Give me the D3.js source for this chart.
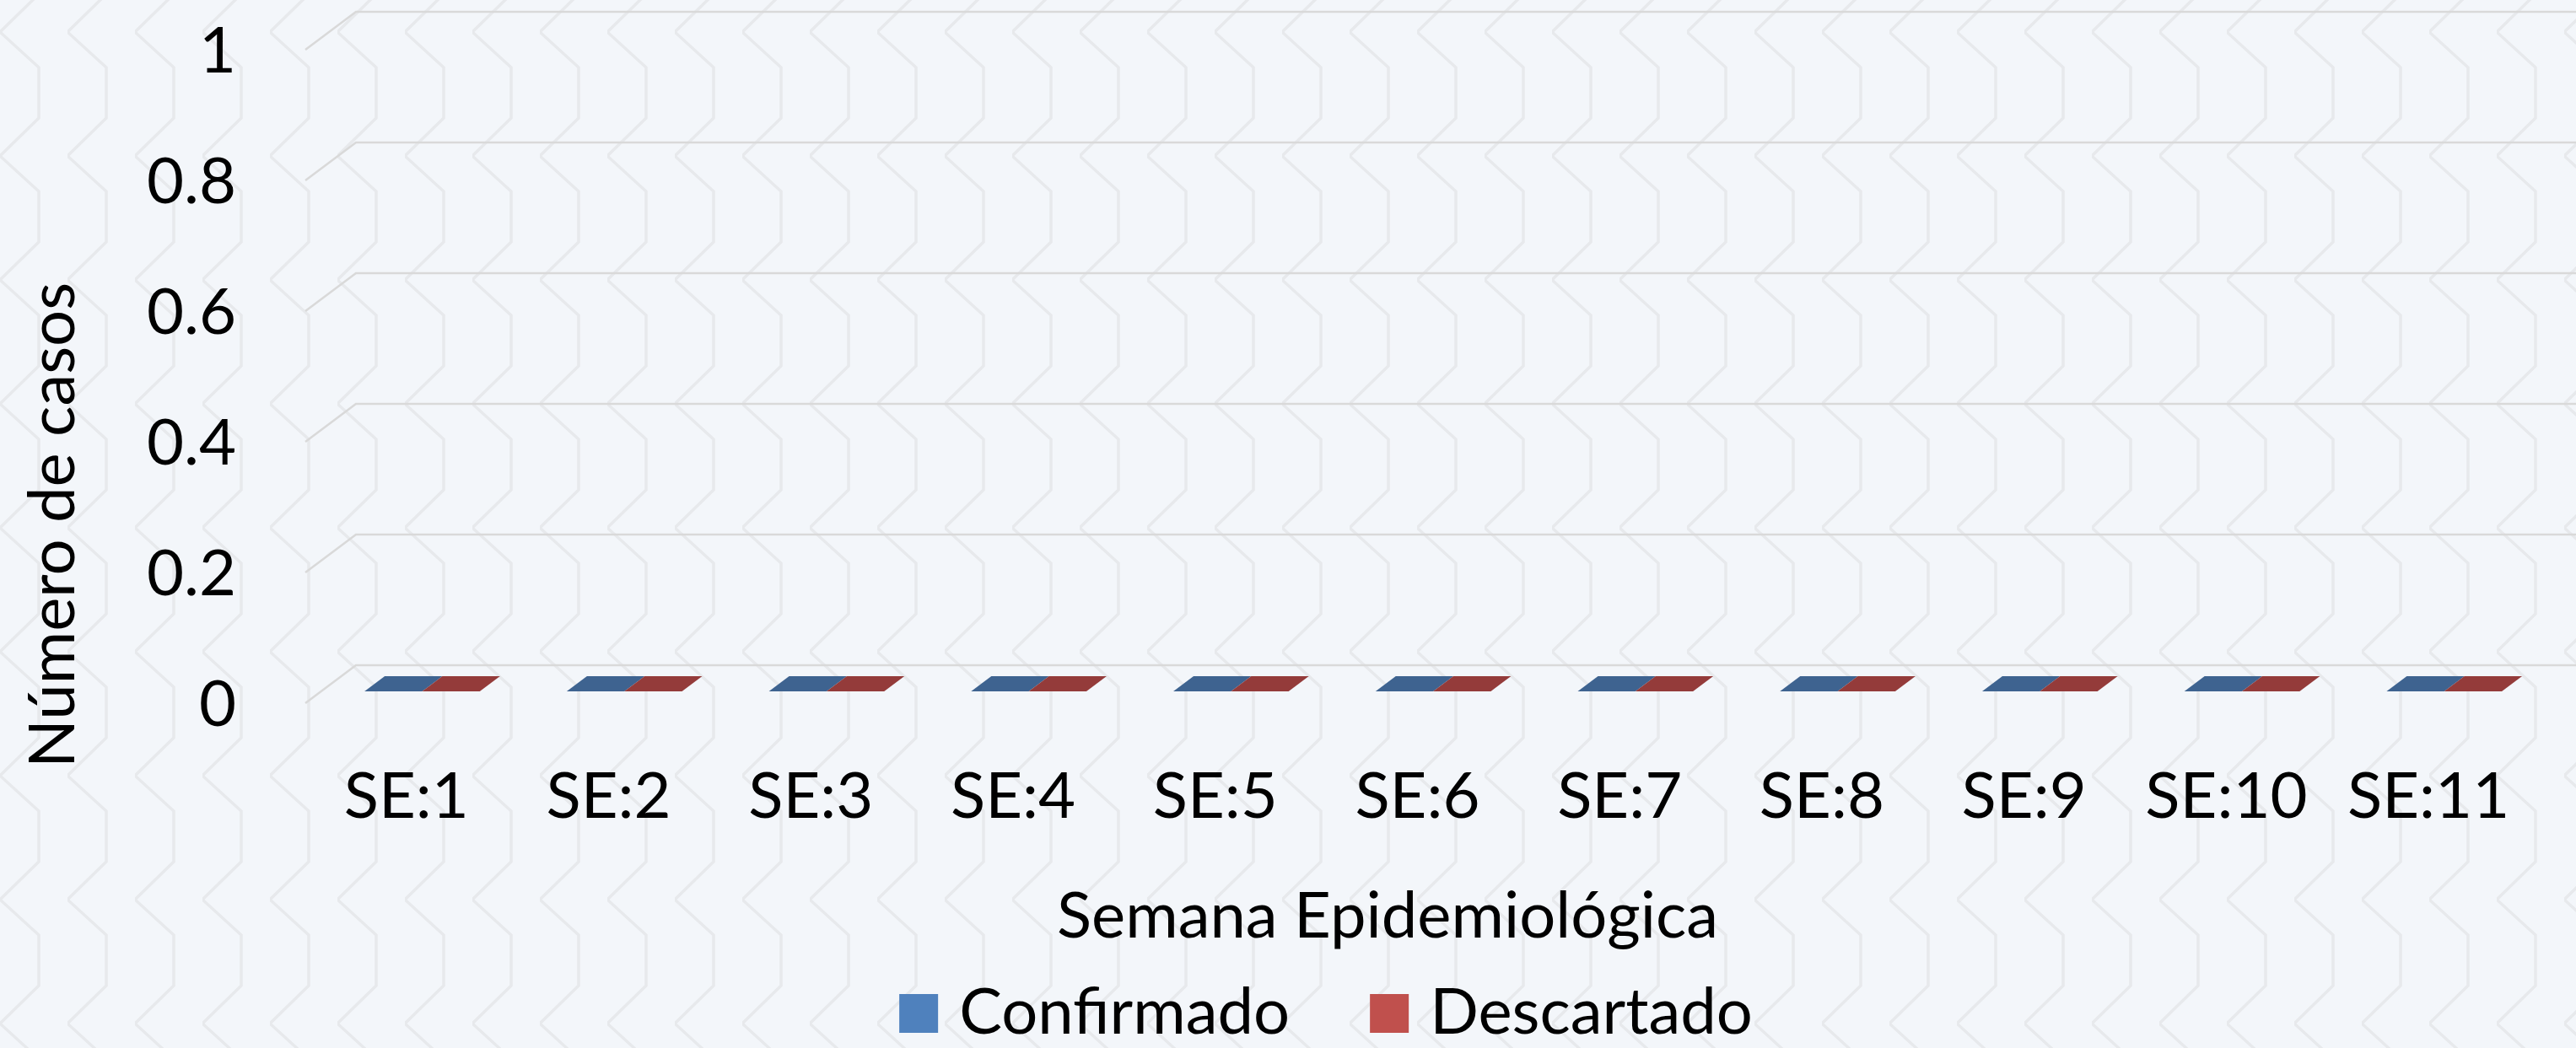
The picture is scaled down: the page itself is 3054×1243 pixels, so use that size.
<!DOCTYPE html>
<html>
<head>
<meta charset="utf-8">
<script src="https://cdn.jsdelivr.net/npm/d3@7"></script>
<style>
  html, body { margin: 0; padding: 0; background: #f3f6fa; overflow: hidden; }
  svg { display: block; }
  text { font-family: Lato, 'Open Sans', sans-serif; fill: #000; }
</style>
</head>
<body>
<script>
/* global d3 */
(function () {
  'use strict'

  // Data
  var weeks = ['SE:1', 'SE:2', 'SE:3', 'SE:4', 'SE:5', 'SE:6', 'SE:7', 'SE:8', 'SE:9', 'SE:10', 'SE:11']
  var confirmado = [0, 0, 0, 0, 0, 0, 0, 0, 0, 0, 0]
  var descartado = [0, 0, 0, 0, 0, 0, 0, 0, 0, 0, 0]
  var seriesNames = ['Confirmado', 'Descartado']
  var yTicks = [0, 0.2, 0.4, 0.6, 0.8, 1]
  var yTickLabels = ['0', '0.2', '0.4', '0.6', '0.8', '1']

  // Dimensions
  var dim = { w: 3054, h: 1243 }
  var plot = { left: 362, right: 2999, top: 59, bottom: 834 }
  var depth = { dx: 60, dy: -45 }
  var barDepth = [0.31, 0.71]
  var fontSize = 76

  var colors = {
    front: ['#4f81bd', '#c0504d'],
    top: ['#3e6390', '#943b3a'],
    side: ['#34537a', '#7d3231']
  }

  var svg = d3.select('body').append('svg')
    .attr('width', dim.w)
    .attr('height', dim.h)

  drawBackground(svg)

  var x = d3.scaleBand().domain(weeks)
    .range([plot.left, plot.right]).paddingInner(0.43).paddingOuter(0.215)
  var x1 = d3.scaleBand().domain(seriesNames).range([0, x.bandwidth()])
  var y = d3.scaleLinear().domain([0, 1]).range([plot.bottom, plot.top])

  drawGrid(svg, y)
  drawBars(svg, x, x1, y)
  drawLabels(svg, x, y)
  drawLegend(svg)

  function drawBackground (svg) {
    var defs = svg.append('defs')
    var pat = defs.append('pattern')
      .attr('id', 'hex')
      .attr('patternUnits', 'userSpaceOnUse')
      .attr('width', 80)
      .attr('height', 147)
      .attr('patternTransform', 'translate(0,38)')

    pat.append('path')
      .attr('d', 'M0,0 L46,42 L46,102 L0,147')
      .attr('fill', 'none')
      .attr('stroke', '#e7e9ec')
      .attr('stroke-width', 3.5)

    svg.append('rect')
      .attr('width', dim.w)
      .attr('height', dim.h)
      .attr('fill', '#f3f6fa')

    svg.append('rect')
      .attr('width', dim.w)
      .attr('height', dim.h)
      .attr('fill', 'url(#hex)')
  }

  function drawGrid (svg, y) {
    svg.append('g').attr('class', 'grid')
      .selectAll('path').data(yTicks)
      .enter().append('path')
        .attr('d', function (d) {
          var yf = y(d)
          return 'M' + plot.left + ',' + yf +
            'L' + (plot.left + depth.dx) + ',' + (yf + depth.dy) +
            'L' + dim.w + ',' + (yf + depth.dy)
        })
        .attr('fill', 'none')
        .attr('stroke', '#d9d9d9')
        .attr('stroke-width', 2.5)
  }

  function drawBars (svg, x, x1, y) {
    var rows = weeks.map(function (w, i) {
      return { week: w, values: [confirmado[i], descartado[i]] }
    })

    var bdx = (barDepth[1] - barDepth[0]) * depth.dx
    var bdy = (barDepth[1] - barDepth[0]) * depth.dy
    var ox = barDepth[0] * depth.dx
    var oy = barDepth[0] * depth.dy
    var bw = x1.bandwidth()

    var groups = svg.append('g').attr('class', 'bars')
      .selectAll('g').data(rows)
      .enter().append('g')

    var bars = groups.selectAll('g')
      .data(function (d) {
        return d.values.map(function (v, j) {
          return { week: d.week, s: j, value: v }
        })
      })
      .enter().append('g')

    function pts (d) {
      return {
        xs: x(d.week) + x1(seriesNames[d.s]) + ox,
        yb: y(0) + oy,
        yt: y(d.value) + oy
      }
    }

    // side
    bars.append('path')
      .attr('fill', function (d) { return colors.side[d.s] })
      .attr('d', function (d) {
        var p = pts(d)
        if (p.yb - p.yt < 0.5) return null
        return 'M' + (p.xs + bw) + ',' + p.yt + 'L' + (p.xs + bw + bdx) + ',' + (p.yt + bdy) +
          'L' + (p.xs + bw + bdx) + ',' + (p.yb + bdy) + 'L' + (p.xs + bw) + ',' + p.yb + 'Z'
      })

    // front
    bars.append('rect')
      .attr('fill', function (d) { return colors.front[d.s] })
      .attr('x', function (d) { return pts(d).xs })
      .attr('y', function (d) { return pts(d).yt })
      .attr('width', bw)
      .attr('height', function (d) { var p = pts(d); return p.yb - p.yt })

    // top
    bars.append('path')
      .attr('fill', function (d) { return colors.top[d.s] })
      .attr('d', function (d) {
        var p = pts(d)
        return 'M' + p.xs + ',' + p.yt + 'L' + (p.xs + bw) + ',' + p.yt +
          'L' + (p.xs + bw + bdx) + ',' + (p.yt + bdy) + 'L' + (p.xs + bdx) + ',' + (p.yt + bdy) + 'Z'
      })
  }

  function drawLabels (svg, x, y) {
    svg.append('g').attr('class', 'y labels')
      .selectAll('text').data(yTicks)
      .enter().append('text')
        .attr('x', 280)
        .attr('y', function (d) { return y(d) })
        .attr('dy', '0.36em')
        .attr('text-anchor', 'end')
        .attr('font-size', fontSize)
        .text(function (d, i) { return yTickLabels[i] })

    svg.append('g').attr('class', 'x labels')
      .selectAll('text').data(weeks)
      .enter().append('text')
        .attr('x', function (d) { return x(d) + x.bandwidth() / 2 })
        .attr('y', 970)
        .attr('text-anchor', 'middle')
        .attr('font-size', fontSize)
        .text(function (d) { return d })

    svg.append('text')
      .attr('transform', 'translate(88,623) rotate(-90)')
      .attr('text-anchor', 'middle')
      .attr('font-size', fontSize)
      .text('Número de casos')

    svg.append('text')
      .attr('x', 1645)
      .attr('y', 1112)
      .attr('text-anchor', 'middle')
      .attr('font-size', fontSize)
      .text('Semana Epidemiológica')
  }

  function drawLegend (svg) {
    var sq = 46
    var gapText = 25
    var gapItem = 95
    var legend = svg.append('g').attr('class', 'legend')

    var items = legend.selectAll('g').data(seriesNames)
      .enter().append('g')

    items.append('rect')
      .attr('y', 1179)
      .attr('width', sq)
      .attr('height', sq)
      .attr('fill', function (d, i) { return colors.front[i] })

    items.append('text')
      .attr('x', sq + gapText)
      .attr('y', 1226)
      .attr('font-size', fontSize)
      .text(function (d) { return d })

    var widths = []
    items.selectAll('text').each(function () {
      widths.push(sq + gapText + this.getComputedTextLength())
    })
    var total = d3.sum(widths) + gapItem * (widths.length - 1)
    var cx = 1572 - total / 2
    items.attr('transform', function (d, i) {
      var off = cx + d3.sum(widths.slice(0, i)) + gapItem * i
      return 'translate(' + off + ',0)'
    })
  }
}())
</script>
</body>
</html>
